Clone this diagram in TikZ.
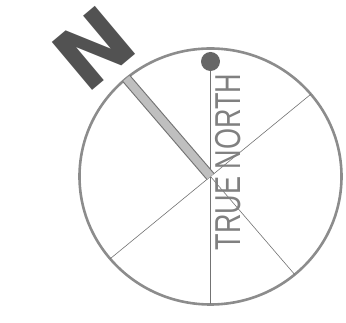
\documentclass[tikz,border=0pt]{standalone}
\usepackage{fontspec}
\setmainfont{Liberation Sans}
\newfontfamily\bignfont{DejaVu Sans}
\usetikzlibrary{calc}

\begin{document}
\begin{tikzpicture}[
  x=1pt, y=1pt,
  rim/.style={draw=black!45, line width=2.6pt},
  diam/.style={draw=black!55, line width=0.6pt},
  needle/.style={draw=black!55, line width=1.1pt, double=black!25,
                 double distance=8pt, line cap=butt},
  knob/.style={circle, fill=black!60, inner sep=0pt, minimum size=19pt},
  bigN/.style={font=\bignfont\bfseries\fontsize{86}{86}\selectfont,
               text=black!68, inner sep=0pt, rotate=40},
  hand/.style={font=\fontsize{36}{36}\selectfont, text=black!50,
               inner sep=0pt, rotate=90}
]
\useasboundingbox (0,0) rectangle (346,323);

% ---------------------------------------------------------------------------
% Compass ring and its diameters
% ---------------------------------------------------------------------------
\coordinate (c) at (210.5,146.5);
\draw[rim] (c) ellipse (131 and 128);

\coordinate (ne) at ($(c)+(40:131 and 128)$);
\coordinate (sw) at ($(c)+(220:131 and 128)$);
\coordinate (se) at ($(c)+(-50:131 and 128)$);
\coordinate (nw) at ($(c)+(130:131 and 128)$);
\coordinate (bot) at ($(c)+(0,-128)$);

\node[knob] (knob) at ($(c)+(0,115)$) {};

\draw[diam] (sw) -- (ne);
\draw[diam] (c) -- (se);
\draw[diam] (knob.south) -- (bot);

% Needle towards magnetic north
\draw[needle] (c) -- (nw);

% ---------------------------------------------------------------------------
% Labels
% ---------------------------------------------------------------------------
\node[bigN] (north) at (94,275) {N};
\node[hand] (truenorth) at (228.5,161) {\scalebox{0.75}[1]{TRUE NORTH}};

\end{tikzpicture}
\end{document}
